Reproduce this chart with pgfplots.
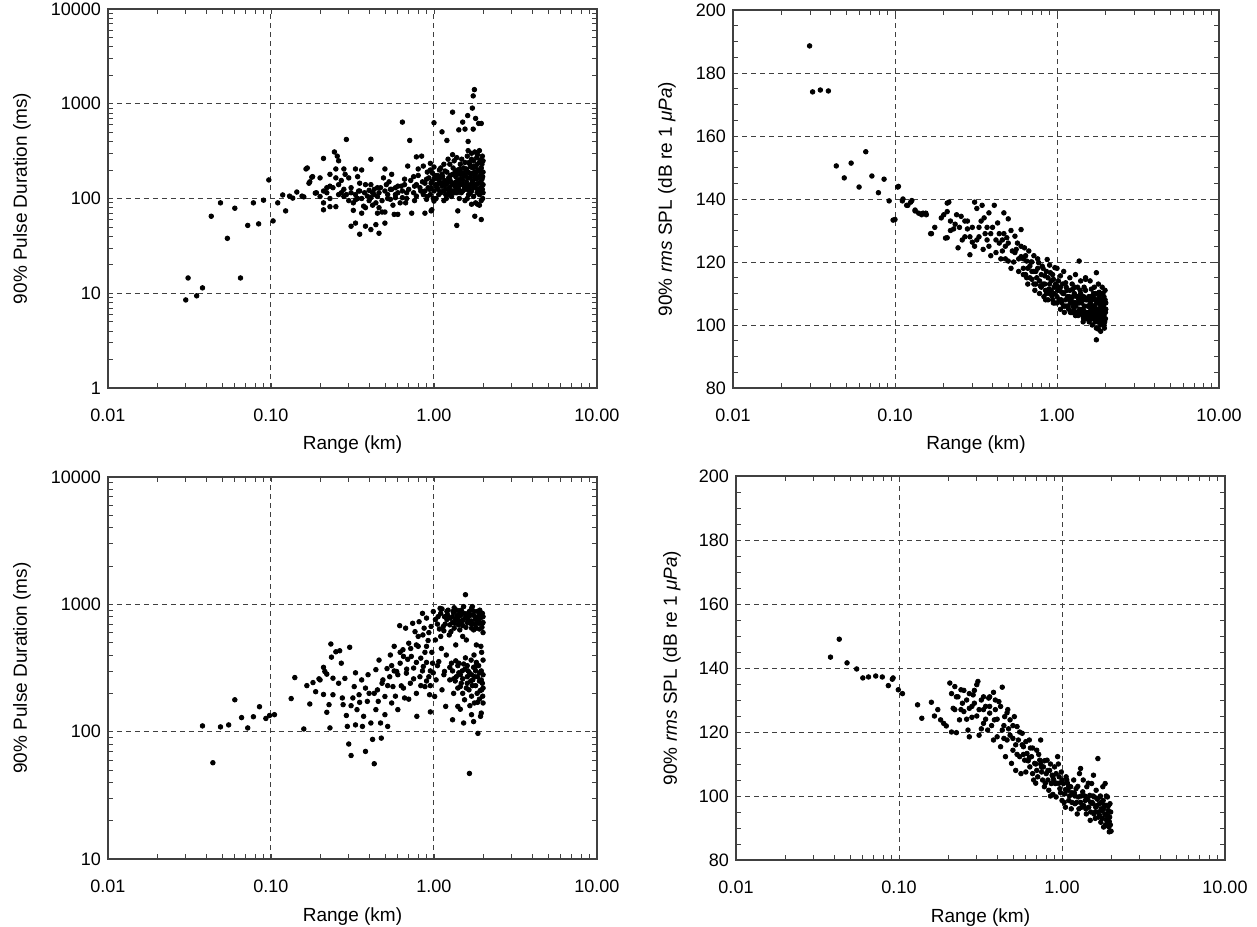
\documentclass[border=0pt]{standalone}
\usepackage{fontspec}
\setmainfont{Liberation Sans}
\usepackage{pgfplots}
\pgfplotsset{compat=1.18}
\begin{document}
\begin{tikzpicture}
\useasboundingbox (0,0) rectangle (628.5pt,-463pt);
% ---------------- top left ----------------
\begin{axis}[at={(54pt,-4.5pt)}, anchor=north west, width=244.5pt, height=189.5pt,
  scale only axis,
  xmode=log, xmin=0.01, xmax=10,
  xtick={0.01,0.1,1,10}, xticklabels={0.01,0.10,1.00,10.00},
  tick align=inside,
  major tick length=2.5pt, minor tick length=2.5pt,
  every tick/.style={black!75, line width=0.4pt},
  axis line style={black!75, line width=0.6pt},
  grid=major,
  major grid style={black!75, line width=0.5pt, dash pattern=on 2.5pt off 2pt},
  tick label style={font=\fontsize{9}{10}\selectfont},
  label style={font=\fontsize{9.5}{11}\selectfont},
  xticklabel style={yshift=-7pt},
  xlabel={Range (km)},
  xlabel style={at={(axis description cs:0.5,-0.15)}, anchor=center},
  ymode=log, ymin=1, ymax=10000,
  ytick={1,10,100,1000,10000}, yticklabels={1,10,100,1000,10000},
  ylabel={90\% Pulse Duration (ms)},
  ylabel style={at={(axis description cs:-0.176,0.5)}, anchor=center}]
\addplot[only marks, mark=*, mark size=1.15pt, mark options={fill=black, draw=none}] coordinates {
(0.030,8.5) (0.031,14.5) (0.035,9.4) (0.038,11.4) (0.065,14.5)
(0.043,65) (0.049,90) (0.054,38) (0.060,79) (0.072,52) (0.078,90) (0.084,54) (0.090,96) (0.097,157)
(0.103,58) (0.110,90) (0.118,109) (0.123,74) (0.130,106) (0.136,101) (0.144,117) (0.155,106) (0.159,104)
(0.164,205) (0.171,145) (0.178,168) (0.187,114)
(1.77,1410) (1.74,1210) (1.72,900) (1.61,750) (1.3,815) (1.5,640) (1.55,540) (1.42,530) (1.74,540)
(1.88,620) (1.95,620) (1.8,700) (1.12,505) (1.0,630) (0.64,640) (1.2,410) (1.62,400) (0.71,410) (0.29,420)
(0.167,210) (0.18,170) (0.173,150) (0.21,265) (0.2,165) (0.19,115) (0.2,105) (0.21,90) (0.21,76) (0.23,82)
(0.25,82) (0.23,180) (0.23,135) (0.22,130) (0.245,310) (0.255,280) (0.26,250) (0.25,205) (0.25,165)
(0.28,205) (0.285,180) (0.27,155) (0.3,165) (0.31,130) (0.27,115) (0.28,105) (0.31,115) (0.33,205)
(0.34,170) (0.36,200) (0.35,145) (0.33,97) (0.345,120) (0.375,115) (0.32,90) (0.37,83) (0.36,70)
(0.35,42) (0.33,55) (0.31,51) (0.38,51) (0.41,260) (0.41,140) (0.4,122) (0.39,106) (0.41,102) (0.43,110)
(0.45,130) (0.46,115) (0.44,90) (0.45,70) (0.48,72) (0.5,72) (0.41,47) (0.44,53) (0.46,43) (0.5,55)
(0.5,205) (0.49,165) (0.51,140) (0.55,180) (0.54,125) (0.52,110) (0.54,98) (0.58,102) (0.57,68) (0.6,68)
(0.6,115) (0.63,135) (0.66,160) (0.64,102) (0.67,90) (0.73,70) (0.69,220) (0.75,170) (0.76,135) (0.78,275)
(0.84,280) (0.86,220) (0.8,205) (0.78,106) (0.83,120) (0.88,145) (0.9,98) (0.88,70) (0.96,74) (0.91,190)
(0.95,235) (1.38,52) (1.78,65) (1.95,60) (1.7,87) (1.85,87) (1.4,74) (0.97,76) (1.0,94)
(0.92,130) (0.93,165) (0.95,110) (0.96,145) (0.98,185) (1.0,120) (1.0,160) (1.02,140) (1.03,100) (1.05,175)
(1.06,125) (1.08,150) (1.1,210) (1.1,115) (1.12,135) (1.13,170) (1.15,95) (1.16,155) (1.18,125) (1.2,190)
(1.2,140) (1.22,110) (1.23,165) (1.25,230) (1.25,130) (1.27,150) (1.28,105) (1.3,180) (1.3,120) (1.32,145)
(1.33,250) (1.35,135) (1.36,170) (1.38,115) (1.4,200) (1.4,155) (1.42,125) (1.43,100) (1.45,180) (1.46,140)
(1.48,260) (1.5,160) (1.5,120) (1.52,210) (1.53,135) (1.55,95) (1.56,175) (1.58,150) (1.6,280) (1.6,125)
(1.62,190) (1.63,110) (1.65,165) (1.66,230) (1.68,140) (1.7,300) (1.7,120) (1.72,185) (1.73,155) (1.75,250)
(1.75,105) (1.77,170) (1.78,135) (1.8,215) (1.8,90) (1.82,160) (1.83,270) (1.85,125) (1.86,195) (1.88,145)
(1.9,240) (1.9,110) (1.92,175) (1.93,130) (1.95,210) (1.95,95) (1.97,160) (1.98,280) (2.0,140) (2.0,190)
(2.0,115) (1.97,230) (1.9,320) (1.85,290) (1.78,310) (1.7,260) (1.62,320) (1.55,240) (1.45,230) (1.38,270)
(1.3,290) (1.22,260) (1.15,230) (1.08,200) (1.0,215) (0.95,200) (0.9,160) (0.88,120) (0.85,150) (0.82,130)
(0.8,175) (0.78,140) (0.75,115) (0.72,155) (0.7,125) (0.68,100) (0.66,140) (0.64,120) (0.62,90) (0.6,135)
(0.58,110) (0.56,85) (0.55,125) (0.52,100) (0.5,120) (0.48,95) (0.46,80) (0.45,105) (0.43,125) (0.42,85)
(0.4,95) (0.38,80) (0.36,100) (0.35,120) (0.33,110) (0.32,75) (0.3,95) (0.28,125) (0.26,110) (0.24,130)
(0.22,115) (0.21,120) (1.12,180) (1.35,195) (1.58,205) (1.88,200) (1.65,130) (1.45,160) (1.25,160) (1.05,140)
(1.92,255) (1.8,180) (1.68,215) (1.52,185) (1.42,145) (1.18,110) (1.72,150) (1.98,125) (1.6,100) (1.84,115)
(0.91,105) (0.94,125) (0.97,150) (0.99,100) (1.01,175) (1.04,130) (1.07,110) (1.09,165) (1.11,145) (1.14,120)
(1.17,195) (1.19,100) (1.21,150) (1.24,120) (1.26,175) (1.29,140) (1.31,210) (1.34,115) (1.37,150) (1.39,180)
(1.41,135) (1.44,205) (1.47,115) (1.49,145) (1.51,175) (1.54,125) (1.57,200) (1.59,140) (1.61,165) (1.64,240)
(1.67,115) (1.69,180) (1.71,145) (1.74,210) (1.76,130) (1.79,190) (1.81,140) (1.84,230) (1.87,165) (1.89,125)
(1.91,195) (1.94,150) (1.96,115) (1.99,170) (2.0,250) (1.99,100) (1.9,85) (1.76,220) (1.66,185) (1.56,130)
(1.46,190) (1.36,125) (1.26,110) (1.16,140) (1.06,160) (0.96,130) (0.86,110) (0.76,95) (0.68,115) (0.58,130)
(0.53,150) (0.47,130) (0.42,115) (0.38,140) (0.34,100) (0.29,110) (0.26,140) (0.23,100)
};
\end{axis}
% ---------------- top right ----------------
\begin{axis}[at={(366.5pt,-5pt)}, anchor=north west, width=243pt, height=189pt,
  scale only axis,
  xmode=log, xmin=0.01, xmax=10,
  xtick={0.01,0.1,1,10}, xticklabels={0.01,0.10,1.00,10.00},
  tick align=inside,
  major tick length=2.5pt, minor tick length=2.5pt,
  every tick/.style={black!75, line width=0.4pt},
  axis line style={black!75, line width=0.6pt},
  grid=major,
  major grid style={black!75, line width=0.5pt, dash pattern=on 2.5pt off 2pt},
  tick label style={font=\fontsize{9}{10}\selectfont},
  label style={font=\fontsize{9.5}{11}\selectfont},
  xticklabel style={yshift=-7pt},
  xlabel={Range (km)},
  xlabel style={at={(axis description cs:0.5,-0.15)}, anchor=center},
  ymin=80, ymax=200, ytick={80,100,120,140,160,180,200}, yticklabels={80,100,120,140,160,180,200},
  minor y tick num=3,
  ylabel={90\% \textit{rms} SPL (dB re 1 \textit{μPa})},
  ylabel style={at={(axis description cs:-0.136,0.5)}, anchor=center}]
\addplot[only marks, mark=*, mark size=1.15pt, mark options={fill=black, draw=none}] coordinates {
(0.0297,188.6) (0.031,174) (0.0346,174.6) (0.0388,174.3) (0.0434,150.5) (0.0486,146.7) (0.0536,151.4)
(0.060,143.8) (0.066,155) (0.072,147.3) (0.079,142) (0.0856,146.3) (0.092,139.4) (0.0973,133.3)
(0.104,143.8) (0.111,139.4) (0.118,138) (0.125,139) (0.133,136.2) (0.14,135.5) (0.146,135) (0.155,135.5)
(0.166,129) (0.176,131) (0.21,138.7) (0.205,127.6)
(0.105,144) (0.1,133.5) (0.112,140) (0.12,138) (0.127,139.5) (0.133,136.5) (0.149,135.5) (0.156,135)
(0.168,129) (0.193,134) (0.2,135) (0.215,139) (0.21,136) (0.22,133) (0.21,127.7) (0.23,130.5) (0.235,132)
(0.245,124.5) (0.256,134.5) (0.27,128) (0.28,130.5) (0.29,122.3) (0.3,126.3) (0.31,139) (0.32,137)
(0.33,131) (0.345,138) (0.355,134) (0.37,127) (0.38,135.6) (0.39,129) (0.41,138) (0.43,132.4) (0.44,126)
(0.46,123.5) (0.47,135.6) (0.47,129) (0.49,127.7) (0.5,133.7) (0.5,120.3) (0.53,123.5) (0.55,128.2)
(0.57,126) (0.6,130.3) (0.6,121.7) (0.63,124.5) (0.64,116) (0.65,120.3) (0.67,123.5) (0.68,118.7)
(0.7,114.5) (0.72,122) (0.74,117) (0.77,119.8) (0.79,112.4) (0.81,118.7) (0.84,115.6) (0.87,120.8)
(0.89,111.4) (0.91,116.6) (0.93,109.3) (0.95,114.5) (0.97,118.2) (1.0,112.4) (1.0,107) (1.05,115.6)
(1.07,110.4) (1.1,106) (1.13,113.4) (1.18,108.2) (1.21,104) (1.25,111.4) (1.27,107.2) (1.3,103)
(1.37,120.3) (1.4,109.3) (1.43,105) (1.46,102) (1.5,114.5) (1.53,108.2) (1.56,103) (1.6,106) (1.63,111.4)
(1.67,104) (1.7,108.2) (1.74,102) (1.75,116.6) (1.76,105) (1.8,98.7) (1.82,110.4) (1.85,106) (1.87,102)
(1.9,108.2) (1.93,104) (1.95,100) (1.75,95.3) (1.64,102.4) (0.97,107)
(0.62,118) (0.65,115) (0.7,117) (0.72,113) (0.75,115) (0.78,110) (0.8,116) (0.82,113) (0.85,111) (0.86,117)
(0.88,108) (0.9,113) (0.92,111) (0.94,116) (0.96,110) (0.98,113) (1.0,109) (1.02,114) (1.04,111) (1.06,108)
(1.08,113) (1.1,110) (1.12,106) (1.14,112) (1.16,109) (1.18,105) (1.2,111) (1.22,108) (1.24,113) (1.26,106)
(1.28,110) (1.3,107) (1.32,104) (1.34,112) (1.36,108) (1.38,105) (1.4,110) (1.42,107) (1.44,103) (1.46,109)
(1.48,106) (1.5,111) (1.52,104) (1.54,108) (1.56,106) (1.58,101) (1.6,109) (1.62,105) (1.64,108) (1.66,103)
(1.68,110) (1.7,106) (1.72,101) (1.74,108) (1.76,104) (1.78,107) (1.8,103) (1.82,109) (1.84,105) (1.86,101)
(1.88,107) (1.9,104) (1.92,110) (1.94,106) (1.96,102) (1.98,108) (2.0,105) (1.9,112) (1.8,113) (1.7,112)
(1.6,114) (1.5,115) (1.4,114) (1.3,116) (1.2,115) (1.1,117) (1.0,118) (0.9,119) (1.75,99) (1.85,100)
(1.95,103) (1.65,100) (1.55,102) (1.45,101) (1.35,103) (1.25,104) (1.15,106) (1.05,105) (0.95,107) (0.85,108)
(0.25,131) (0.27,133) (0.29,128) (0.31,125) (0.33,128) (0.35,124) (0.37,131) (0.39,122) (0.42,127) (0.45,121)
(0.48,125) (0.52,118) (0.55,123) (0.58,117) (0.62,121) (0.66,113) (0.69,120) (0.73,111) (0.76,121) (0.83,109)
(1.88,103) (1.97,101) (1.78,101) (1.68,106) (1.58,104) (1.48,103) (1.92,106) (1.99,104) (1.83,107) (1.73,103)
(0.22,130) (0.24,135) (0.26,127) (0.28,133) (0.3,131) (0.32,127) (0.34,133) (0.36,129) (0.38,125) (0.4,131)
(0.42,123) (0.44,129) (0.46,127) (0.48,121) (0.5,126) (0.52,130) (0.54,120) (0.56,124) (0.58,121) (0.6,125)
(0.62,116) (0.64,122) (0.66,118) (0.68,115) (0.7,120) (0.72,117) (0.74,113) (0.76,118) (0.78,114) (0.8,112)
(0.82,118) (0.84,113) (0.86,110) (0.88,115) (0.9,110) (0.92,114) (0.94,108) (0.96,112)
(1.01,111) (1.03,108) (1.05,112) (1.07,107) (1.09,110) (1.11,104) (1.13,108) (1.15,111) (1.17,106) (1.19,109)
(1.21,107) (1.23,104) (1.25,109) (1.27,105) (1.29,112) (1.31,106) (1.33,109) (1.35,104) (1.37,107) (1.39,111)
(1.41,104) (1.43,108) (1.45,105) (1.47,112) (1.49,104) (1.51,108) (1.53,102) (1.55,106) (1.57,109) (1.59,104)
(1.61,107) (1.63,102) (1.65,106) (1.67,109) (1.69,102) (1.71,105) (1.73,110) (1.75,107) (1.77,102) (1.79,105)
(1.81,108) (1.83,102) (1.85,104) (1.87,110) (1.89,105) (1.91,102) (1.93,107) (1.95,109) (1.97,105) (1.99,102)
(2.0,107) (1.98,111) (1.96,99) (1.86,98)
};
\end{axis}
% ---------------- bottom left ----------------
\begin{axis}[at={(54pt,-238.5pt)}, anchor=north west, width=244.5pt, height=191pt,
  scale only axis,
  xmode=log, xmin=0.01, xmax=10,
  xtick={0.01,0.1,1,10}, xticklabels={0.01,0.10,1.00,10.00},
  tick align=inside,
  major tick length=2.5pt, minor tick length=2.5pt,
  every tick/.style={black!75, line width=0.4pt},
  axis line style={black!75, line width=0.6pt},
  grid=major,
  major grid style={black!75, line width=0.5pt, dash pattern=on 2.5pt off 2pt},
  tick label style={font=\fontsize{9}{10}\selectfont},
  label style={font=\fontsize{9.5}{11}\selectfont},
  xticklabel style={yshift=-7pt},
  xlabel={Range (km)},
  xlabel style={at={(axis description cs:0.5,-0.15)}, anchor=center},
  ymode=log, ymin=10, ymax=10000,
  ytick={10,100,1000,10000}, yticklabels={10,100,1000,10000},
  ylabel={90\% Pulse Duration (ms)},
  ylabel style={at={(axis description cs:-0.176,0.5)}, anchor=center}]
\addplot[only marks, mark=*, mark size=1.15pt, mark options={fill=black, draw=none}] coordinates {
(0.038,111) (0.044,57) (0.049,109) (0.055,113) (0.060,178) (0.066,129) (0.072,107) (0.078,131) (0.085,157)
(0.093,127) (0.098,134) (0.105,136) (0.133,182) (0.14,266) (0.159,105) (0.166,230) (0.173,165) (0.181,243)
(0.188,206) (0.197,260)
(0.2,255) (0.21,320) (0.214,297) (0.22,283) (0.21,196) (0.22,142) (0.227,163) (0.23,107) (0.235,385)
(0.24,263) (0.233,488) (0.24,195) (0.25,424) (0.26,240) (0.27,345) (0.264,432) (0.274,184) (0.277,163)
(0.284,262) (0.29,134) (0.294,110) (0.3,80) (0.304,460) (0.31,65) (0.31,160) (0.318,184) (0.324,226)
(0.33,113) (0.337,149) (0.347,195) (0.36,255) (0.364,110) (0.37,132) (0.38,70) (0.39,173) (0.394,280)
(0.4,200) (0.41,117) (0.42,87) (0.43,56) (0.44,149) (0.44,307) (0.45,213) (0.455,173) (0.46,365) (0.47,117)
(0.475,89) (0.486,255) (0.5,136) (0.5,189) (0.515,313) (0.52,110) (0.535,270) (0.54,400) (0.55,168)
(0.56,226) (0.57,468) (0.59,297) (0.6,149) (0.616,680) (0.62,345) (0.63,229) (0.645,440) (0.66,184)
(0.67,650) (0.677,288) (0.69,370) (0.7,495) (0.716,240) (0.726,390) (0.74,710) (0.75,316) (0.765,610)
(0.78,200) (0.785,132) (0.8,468) (0.81,730) (0.82,270) (0.83,378) (0.85,850) (0.855,575) (0.86,325)
(0.88,226) (0.9,780) (0.9,468) (0.93,270) (0.94,195) (0.95,143) (0.96,670) (0.98,345) (0.99,878)
(1.01,189) (1.02,525) (1.03,255) (1.06,800) (1.07,355) (1.09,930) (1.11,450) (1.12,213) (1.14,670)
(1.16,800) (1.16,297) (1.18,158) (1.19,400) (1.22,900) (1.24,575) (1.25,255) (1.26,780) (1.28,345)
(1.3,124) (1.31,880) (1.32,200) (1.34,710) (1.36,480) (1.37,270) (1.39,820) (1.4,158) (1.42,345) (1.44,630)
(1.45,226) (1.47,900) (1.49,300) (1.5,750) (1.52,117) (1.54,178) (1.56,1190) (1.58,525) (1.6,270)
(1.62,850) (1.64,213) (1.65,47) (1.67,710) (1.69,365) (1.7,136) (1.72,960) (1.73,255) (1.75,630)
(1.77,168) (1.79,800) (1.8,325) (1.82,480) (1.84,200) (1.86,97) (1.88,750) (1.9,290) (1.91,900) (1.93,132)
(1.94,468) (1.96,213) (1.98,710) (2.0,365) (2.0,168) (1.98,850) (1.95,255)
(1.05,700) (1.1,850) (1.15,620) (1.2,760) (1.25,690) (1.3,800) (1.33,650) (1.38,900) (1.42,740) (1.46,820)
(1.5,680) (1.55,780) (1.6,720) (1.65,880) (1.7,650) (1.75,820) (1.8,700) (1.85,880) (1.9,640) (1.95,790)
(2.0,720) (1.2,880) (1.4,780) (1.6,800) (1.8,760) (1.3,720) (1.7,740) (1.9,820) (2.0,600) (1.5,560) (1.1,560)
(1.3,300) (1.35,250) (1.4,330) (1.45,280) (1.5,200) (1.55,310) (1.6,240) (1.65,290) (1.7,190) (1.75,320)
(1.8,230) (1.85,270) (1.9,180) (1.95,300) (2.0,220) (1.5,260) (1.6,330) (1.7,280) (1.8,300) (1.9,250)
(2.0,280) (1.4,220) (1.25,320) (1.15,280) (1.05,330) (0.95,300) (0.9,250)
(0.52,230) (0.55,330) (0.58,190) (0.6,280) (0.62,420) (0.65,220) (0.68,310) (0.7,180) (0.72,450) (0.75,260)
(0.78,350) (0.8,560) (0.83,230) (0.85,300) (0.88,420) (0.9,350) (0.93,600) (0.95,230) (0.97,420) (0.99,290)
(0.87,650) (0.92,520) (0.78,480) (0.65,390) (0.57,300) (0.48,240) (0.43,200) (0.38,220) (0.35,170) (0.33,290)
(1.02,760) (1.08,640) (1.12,920) (1.17,700) (1.21,830) (1.27,610) (1.32,860) (1.36,760) (1.41,690) (1.44,870)
(1.48,710) (1.53,850) (1.57,660) (1.62,760) (1.67,820) (1.72,700) (1.76,880) (1.81,650) (1.86,790) (1.89,710)
(1.93,860) (1.97,660) (2.0,800) (1.52,960) (1.33,940) (1.7,930)
(1.32,260) (1.42,290) (1.52,340) (1.58,220) (1.68,250) (1.78,270) (1.88,330) (1.98,240) (1.62,300) (1.72,230)
(1.82,350) (1.92,210) (1.47,240) (1.36,360) (1.56,380) (1.76,400) (1.96,420) (1.85,170) (1.66,160) (1.45,150)
(1.95,140) (1.75,120) (1.99,190)
};
\end{axis}
% ---------------- bottom right ----------------
\begin{axis}[at={(368pt,-238pt)}, anchor=north west, width=244.5pt, height=192pt,
  scale only axis,
  xmode=log, xmin=0.01, xmax=10,
  xtick={0.01,0.1,1,10}, xticklabels={0.01,0.10,1.00,10.00},
  tick align=inside,
  major tick length=2.5pt, minor tick length=2.5pt,
  every tick/.style={black!75, line width=0.4pt},
  axis line style={black!75, line width=0.6pt},
  grid=major,
  major grid style={black!75, line width=0.5pt, dash pattern=on 2.5pt off 2pt},
  tick label style={font=\fontsize{9}{10}\selectfont},
  label style={font=\fontsize{9.5}{11}\selectfont},
  xticklabel style={yshift=-7pt},
  xlabel={Range (km)},
  xlabel style={at={(axis description cs:0.5,-0.15)}, anchor=center},
  ymin=80, ymax=200, ytick={80,100,120,140,160,180,200}, yticklabels={80,100,120,140,160,180,200},
  minor y tick num=3,
  ylabel={90\% \textit{rms} SPL (dB re 1 \textit{μPa})},
  ylabel style={at={(axis description cs:-0.131,0.5)}, anchor=center}]
\addplot[only marks, mark=*, mark size=1.15pt, mark options={fill=black, draw=none}] coordinates {
(0.038,143.4) (0.043,149) (0.048,141.6) (0.055,139.7) (0.060,136.9) (0.065,137.2) (0.072,137.5) (0.079,137.2)
(0.092,136.9) (0.091,136.5) (0.086,134.5) (0.099,133.2) (0.105,132) (0.13,128.5) (0.138,124.3) (0.158,129.3)
(0.165,125) (0.173,127) (0.18,123.8) (0.188,122.7) (0.195,121.9) (0.205,135.3) (0.21,132) (0.215,127.4)
(0.22,134.2) (0.225,131) (0.21,120) (0.225,119.8) (0.235,123.8) (0.24,133.2) (0.245,129) (0.25,126.4)
(0.26,130) (0.265,120.6) (0.27,118.5) (0.27,127.4) (0.28,124.6) (0.285,131.6) (0.29,129) (0.3,134.8)
(0.305,135.8) (0.31,119) (0.32,130) (0.33,122.7) (0.33,127) (0.34,128) (0.35,120.6) (0.355,130.6)
(0.36,125.9) (0.38,132.4) (0.38,117.5) (0.385,123.8) (0.39,127) (0.4,118.5) (0.41,129.5) (0.43,134)
(0.42,115.4) (0.43,120.6) (0.445,124.8) (0.45,112.3) (0.46,117.5) (0.465,127) (0.48,123.8) (0.49,110.2)
(0.5,114.3) (0.51,124.8) (0.52,108) (0.53,121.7) (0.54,117.5) (0.55,112.3) (0.56,107) (0.57,119.6)
(0.58,115.4) (0.59,111.2) (0.6,107.5) (0.61,113.3) (0.63,117.5) (0.635,109.1) (0.65,112.3) (0.66,107)
(0.67,105) (0.68,110.2) (0.7,114.3) (0.7,108) (0.71,106) (0.73,111.2) (0.74,117.5) (0.75,107.5) (0.76,105)
(0.77,109.1) (0.78,102.9) (0.8,107) (0.81,111.2) (0.82,105) (0.83,101.8) (0.84,108) (0.86,103.9) (0.87,106.5)
(0.88,100.5) (0.9,109.1) (0.91,103.9) (0.92,99.7) (0.94,112.3) (0.96,106) (0.97,102.3) (0.99,107.5)
(1.0,98.6) (1.02,103.9) (1.04,100.7) (1.05,96.5) (1.07,105) (1.09,101.8) (1.1,98.6) (1.13,102.9) (1.14,96)
(1.16,100.7) (1.18,105) (1.2,97.6) (1.22,102.3) (1.24,94.4) (1.26,99.7) (1.28,107) (1.3,108.6) (1.32,96.5)
(1.34,101.3) (1.35,105) (1.39,98.6) (1.41,94.4) (1.42,102.9) (1.46,96.5) (1.48,100.2) (1.49,92.4)
(1.52,103.9) (1.55,97.6) (1.56,106.5) (1.57,94.4) (1.58,99.7) (1.61,96.5) (1.62,101.8) (1.66,111.7)
(1.68,93.4) (1.7,97.6) (1.71,99.7) (1.73,91.8) (1.76,95.5) (1.78,102.9) (1.79,98.6) (1.8,90.3) (1.83,94.4)
(1.84,103.9) (1.86,97.1) (1.88,92.4) (1.9,99.7) (1.92,95.5) (1.94,90.3) (1.96,93.4) (1.97,97.6) (1.95,88.8)
(1.9,90.8)
(0.24,127) (0.27,132) (0.3,125) (0.32,121) (0.36,131) (0.44,118) (0.47,121) (0.53,113) (0.62,111) (0.69,104)
(0.79,104) (0.85,100) (0.93,104) (0.98,101) (1.03,98) (1.08,104) (1.11,100) (1.15,98) (1.19,101) (1.23,98)
(1.27,96) (1.31,100) (1.36,97) (1.4,96) (1.44,99) (1.5,95) (1.53,98) (1.6,93) (1.64,97) (1.67,95) (1.74,96)
(1.77,93) (1.82,97) (1.86,94) (1.91,93) (1.98,91) (2.0,89) (1.99,95) (1.93,97) (1.87,100) (1.72,100)
(1.45,104) (1.25,103) (1.06,106) (0.95,110) (0.89,105) (0.74,110) (0.64,115) (0.57,116) (0.5,118)
(0.22,127) (0.23,131) (0.25,133) (0.26,124) (0.28,128) (0.29,133) (0.31,127) (0.33,131) (0.34,124) (0.36,128)
(0.37,122) (0.39,130) (0.4,124) (0.42,128) (0.44,122) (0.46,126) (0.48,119) (0.5,122) (0.52,116) (0.55,120)
(0.58,113) (0.6,117) (0.63,112) (0.66,115) (0.69,110) (0.72,113) (0.75,109) (0.78,111) (0.82,108) (0.85,110)
(0.88,106) (0.92,107) (0.96,104) (1.0,105) (1.05,102) (1.1,103) (1.15,101) (1.2,100) (1.3,98) (1.38,100)
(1.5,98) (1.6,95) (1.7,94) (1.8,96) (1.9,94) (1.95,92) (1.85,91) (1.75,98) (1.65,99) (1.55,100)
};
\end{axis}
\end{tikzpicture}
\end{document}
